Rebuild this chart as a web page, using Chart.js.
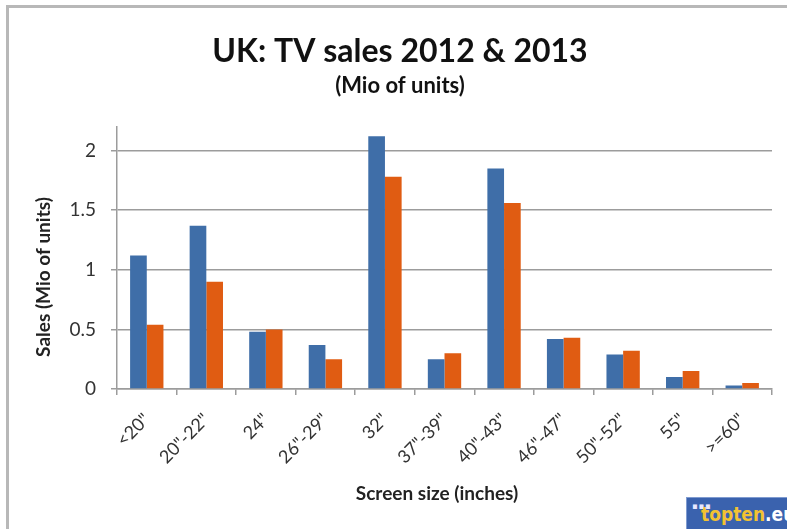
<!DOCTYPE html>
<html>
<head>
<meta charset="utf-8">
<script src="https://cdn.jsdelivr.net/npm/chart.js@4/dist/chart.umd.min.js"></script>
<style>
  html, body { margin: 0; padding: 0; background: #fff; }
  #wrap { position: relative; width: 787px; height: 529px; overflow: hidden; }
  #frame { position: absolute; left: 6px; top: 5px; width: 800px; height: 600px;
           border-left: 3px solid #b8b8b8; border-top: 3px solid #b8b8b8; }
  canvas { position: absolute; left: 0; top: 0; }
  #logo { position: absolute; left: 686px; top: 497px; width: 120px; height: 34px;
          background: #3a62ae; border: 1px solid #7f9bd0; box-sizing: border-box;
          font-family: "DejaVu Sans Condensed", "DejaVu Sans", sans-serif; font-stretch: condensed;
          font-weight: bold; font-size: 19px; line-height: 32px; padding-left: 14px; }
  #logo .a { color: #f2c232; }
  #logo .b { color: #ffffff; }
  #logo .dots { position: absolute; left: 5px; top: 4px; font-size: 9px; line-height: 9px; color: #e8e8ff; letter-spacing: 1px; }
</style>
</head>
<body>
<div id="wrap">
  <div id="frame"></div>
  <canvas id="c" width="787" height="529"></canvas>
  <div id="logo"><span class="dots">▪▪▪</span><span class="a">topten</span><span class="b">.eu</span></div>
</div>
<script>
const categories = ['<20"', '20"-22"', '24"', '26"-29"', '32"', '37"-39"', '40"-43"', '46"-47"', '50"-52"', '55"', '>=60"'];
const sales2012 = [1.12, 1.37, 0.48, 0.37, 2.12, 0.25, 1.85, 0.42, 0.29, 0.10, 0.03];
const sales2013 = [0.54, 0.90, 0.50, 0.25, 1.78, 0.30, 1.56, 0.43, 0.32, 0.15, 0.05];
const yTicks = [0, 0.5, 1, 1.5, 2];
const seriesNames = ['2012', '2013'];
const titleText = 'UK: TV sales 2012 & 2013';
const subtitleText = '(Mio of units)';
const yTitle = 'Sales (Mio of units)';
const xTitle = 'Screen size (inches)';

const FONT = 'Lato, "Open Sans", sans-serif';
const GRID = '#9c9c9c';

const axisTitles = {
  id: 'axisTitles',
  afterDraw(chart) {
    const ctx = chart.ctx;
    ctx.save();
    ctx.fillStyle = '#222';
    ctx.font = 'bold 19px ' + FONT;
    ctx.textAlign = 'center';
    ctx.textBaseline = 'middle';
    ctx.fillText(xTitle, 437, 494);
    ctx.translate(44, 277);
    ctx.rotate(-Math.PI / 2);
    ctx.fillText(yTitle, 0, 0);
    ctx.restore();
  }
};

new Chart(document.getElementById('c'), {
  type: 'bar',
  data: {
    labels: categories,
    datasets: [
      { label: seriesNames[0], data: sales2012, backgroundColor: '#3f6ea8', categoryPercentage: 0.56, barPercentage: 1.0 },
      { label: seriesNames[1], data: sales2013, backgroundColor: '#e05c12', categoryPercentage: 0.56, barPercentage: 1.0 }
    ]
  },
  options: {
    responsive: false,
    animation: false,
    layout: { padding: { left: 28, right: 15, top: 0, bottom: 0 } },
    plugins: {
      legend: { display: false },
      tooltip: { enabled: false },
      title: { display: true, text: titleText, color: '#111',
               font: { family: FONT, size: 32, weight: 'bold' }, padding: { top: 32, bottom: 0 } },
      subtitle: { display: true, text: subtitleText, color: '#111',
                  font: { family: FONT, size: 22, weight: 'bold' }, padding: { top: 2, bottom: 28 } }
    },
    scales: {
      x: {
        afterFit(scale) { scale.height = 140; },
        grid: { display: true, drawOnChartArea: false, drawTicks: true, tickLength: 6, color: GRID, lineWidth: 1.5, offset: true },
        border: { display: true, color: GRID, width: 1.5 },
        ticks: { autoSkip: false, minRotation: 45, maxRotation: 45, padding: 14, color: '#333',
                 font: { family: FONT, size: 18 } }
      },
      y: {
        min: 0, max: 2.2,
        afterFit(scale) { scale.width = 89; },
        afterBuildTicks(scale) { scale.ticks = yTicks.map(v => ({ value: v })); },
        grid: { color: GRID, lineWidth: 1.5, drawTicks: true, tickLength: 6 },
        border: { display: true, color: GRID, width: 1.5 },
        ticks: { padding: 15, color: '#333', font: { family: FONT, size: 19 },
                 callback: (v) => String(v) }
      }
    }
  },
  plugins: [axisTitles]
});
</script>
</body>
</html>
